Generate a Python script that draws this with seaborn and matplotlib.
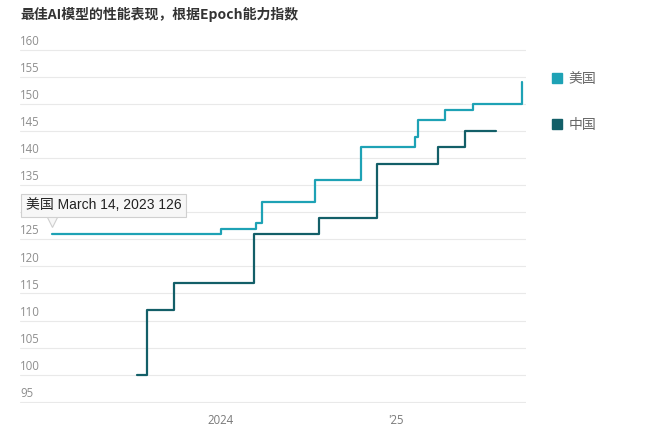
import numpy as np
import pandas as pd
import seaborn as sns
import matplotlib.pyplot as plt
from matplotlib.lines import Line2D
from matplotlib import transforms

#-------------------------------data
us_dates = ["2023-01-13", "2024-01-01", "2024-03-15", "2024-03-27", "2024-07-16",
            "2024-10-20", "2025-02-11", "2025-02-18", "2025-04-14", "2025-06-12",
            "2025-09-23"]
us_values = [126, 127, 128, 132, 136, 142, 144, 147, 149, 150, 154]

cn_dates = ["2023-07-09", "2023-07-31", "2023-09-25", "2024-03-10", "2024-07-25",
            "2024-11-24", "2025-03-31", "2025-05-27", "2025-07-31"]
cn_values = [100, 112, 117, 126, 129, 139, 142, 145, 145]

series_names = ["美国", "中国"]
series_colors = ["#1ea2b5", "#135f68"]
y_ticks = [95, 100, 105, 110, 115, 120, 125, 130, 135, 140, 145, 150, 155, 160]
x_tick_dates = ["2024-01-01", "2025-01-01"]
x_tick_labels = ["2024", "'25"]
title = "最佳AI模型的性能表现，根据Epoch能力指数"
tooltip = "美国 March 14, 2023 126"

#-------------------------------build table
df = pd.concat([
    pd.DataFrame({"date": pd.to_datetime(us_dates), "value": us_values, "country": series_names[0]}),
    pd.DataFrame({"date": pd.to_datetime(cn_dates), "value": cn_values, "country": series_names[1]}),
])

sns.set_style("white")
plt.rcParams["font.family"] = ["Open Sans", "Noto Sans CJK SC", "DejaVu Sans"]

# 5.41 px per index point, a little margin so the edge gridlines are not clipped
fig = plt.figure(figsize=(6.5, 4.33), dpi=100)
ax = fig.add_axes([20 / 650, 1 - 403.3 / 433, 506 / 650, 354.9 / 433])

sns.lineplot(data=df, x="date", y="value", hue="country", palette=series_colors,
             hue_order=series_names, drawstyle="steps-post", linewidth=1.6,
             legend=False, ax=ax)

ax.set_xlim(pd.Timestamp("2022-11-07"), pd.Timestamp("2025-10-01"))
ax.set_ylim(y_ticks[0] - 0.3, y_ticks[-1] + 0.3)

# grid + y labels sitting above the lines
ax.set_yticks(y_ticks)
ax.yaxis.grid(True, color="#e9e9e9", linewidth=0.8)
ax.tick_params(axis="y", left=False, labelleft=False)
for v in y_ticks:
    if v == 130:
        continue  # hidden under the tooltip in the original
    ax.text(0, v + 0.35, str(v), transform=ax.get_yaxis_transform(), ha="left",
            va="bottom", fontsize=8.3, color="#8e8e8e")

ax.set_xticks(pd.to_datetime(x_tick_dates))
ax.set_xticklabels(x_tick_labels)
ax.tick_params(axis="x", length=3, width=0.8, color="#666666", labelsize=8.3,
               labelcolor="#7a7a7a", pad=5)
for s in ax.spines.values():
    s.set_visible(False)
ax.set_xlabel("")
ax.set_ylabel("")

fig.text(20 / 650, 1 - 14 / 433, title, fontsize=10, fontweight="bold",
         color="#333333", va="center", ha="left",
         family=["Noto Sans CJK SC", "DejaVu Sans"])

# legend
handles = [Line2D([], [], marker="s", linestyle="", markersize=6.5, color=c)
           for c in series_colors]
leg = fig.legend(handles, series_names, loc="upper left",
                 bbox_to_anchor=(538 / 650, 1 - 59 / 433), frameon=False,
                 handletextpad=0.3, labelspacing=2.35, handlelength=1.0,
                 prop={"family": ["Noto Sans CJK SC"], "size": 10})
for t in leg.get_texts():
    t.set_color("#666666")

# tooltip on the first US point
x0 = pd.Timestamp(us_dates[0])
tip = transforms.offset_copy(ax.transData, fig=fig, x=0, y=9, units="points")
ax.plot([x0], [us_values[0]], marker="v", markersize=8, color="#f7f7f7",
        markeredgecolor="#cfcfcf", markeredgewidth=0.8, transform=tip, zorder=5,
        clip_on=False)
ax.annotate(tooltip, xy=(x0, us_values[0]), xytext=(-19, 20.5),
            textcoords="offset points", ha="left", va="center", fontsize=10,
            color="#222222", family=["Liberation Sans", "Noto Sans CJK SC"],
            bbox=dict(boxstyle="square,pad=0.33", fc="#f7f7f7", ec="#d0d0d0", lw=0.8),
            zorder=6, annotation_clip=False)

fig.savefig("out.png", dpi=100, facecolor="white")
